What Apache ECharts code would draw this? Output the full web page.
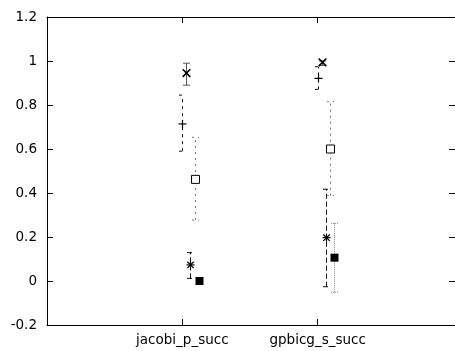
<!DOCTYPE html>
<html>
<head>
<meta charset="utf-8">
<script src="https://cdn.jsdelivr.net/npm/echarts@6/dist/echarts.min.js"></script>
<style>html,body{margin:0;padding:0;background:#fff}#c{width:455px;height:351px}</style>
</head>
<body>
<div id="c"></div>
<script>
// Categories (placed at x = 1 and x = 2)
var categories = ['jacobi_p_succ', 'gpbicg_s_succ'];
var categoryPositions = [1, 2];
var yTicks = [-0.2, 0, 0.2, 0.4, 0.6, 0.8, 1, 1.2];

// Series values: mean, low, high per category
var plusMean = [0.714, 0.921];
var plusLow  = [0.590, 0.871];
var plusHigh = [0.845, 0.974];

var crossMean = [0.945, 0.994];
var crossLow  = [0.890, 0.980];
var crossHigh = [0.990, 1.000];

var starMean = [0.073, 0.197];
var starLow  = [0.012, -0.026];
var starHigh = [0.129, 0.417];

var boxMean = [0.462, 0.600];
var boxLow  = [0.277, 0.388];
var boxHigh = [0.653, 0.815];

var fboxMean = [0.000, 0.106];
var fboxLow  = [-0.003, -0.051];
var fboxHigh = [0.003, 0.262];

function buildData(mean, low, high, seriesIdx) {
  return categories.map(function (c, i) {
    return [categoryPositions[i] + seriesIdx * 0.03, mean[i], low[i], high[i]];
  });
}

function makeRender(marker, stroke, dash) {
  return function (params, api) {
    var x = api.value(0), y = api.value(1), lo = api.value(2), hi = api.value(3);
    var p = api.coord([x, y]);
    var pl = api.coord([x, lo]);
    var ph = api.coord([x, hi]);
    var cx = Math.round(p[0]) + 0.5;
    var cy = p[1];
    var bx = cx;
    var cap = 3.5;
    var ls = {stroke: stroke, lineWidth: 1, lineDash: dash};
    var ch = [];
    ch.push({type: 'line', shape: {x1: bx, y1: pl[1], x2: bx, y2: ph[1]}, style: ls});
    ch.push({type: 'line', shape: {x1: bx - cap, y1: pl[1], x2: bx + cap, y2: pl[1]}, style: ls});
    ch.push({type: 'line', shape: {x1: bx - cap, y1: ph[1], x2: bx + cap, y2: ph[1]}, style: ls});
    var ms = {stroke: '#000', lineWidth: 1.2};
    var r = 4;
    if (marker === 'plus' || marker === 'star') {
      ch.push({type: 'line', shape: {x1: cx - r, y1: cy, x2: cx + r, y2: cy}, style: ms});
      ch.push({type: 'line', shape: {x1: cx, y1: cy - r, x2: cx, y2: cy + r}, style: ms});
    }
    if (marker === 'cross' || marker === 'star') {
      var rr = marker === 'star' ? 3.2 : 3.8;
      var st = marker === 'cross' ? {stroke: '#000', lineWidth: 1.6} : ms;
      ch.push({type: 'line', shape: {x1: cx - rr, y1: cy - rr, x2: cx + rr, y2: cy + rr}, style: st});
      ch.push({type: 'line', shape: {x1: cx - rr, y1: cy + rr, x2: cx + rr, y2: cy - rr}, style: st});
    }
    if (marker === 'box') {
      ch.push({type: 'rect', shape: {x: cx - 4, y: cy - 4, width: 8, height: 8}, style: {fill: '#fff', stroke: '#000', lineWidth: 1}});
    }
    if (marker === 'fbox') {
      ch.push({type: 'rect', shape: {x: cx - 4, y: cy - 4, width: 8, height: 8}, style: {fill: '#000'}});
    }
    return {type: 'group', children: ch};
  };
}

var font = 'DejaVu Sans';
var lineStyle = {color: '#000', width: 1};
var xMax = 3.015;

var option = {
  animation: false,
  backgroundColor: '#fff',
  grid: {left: 47, top: 17, width: 412, height: 308},
  xAxis: [{
    type: 'value', min: 0, max: xMax, interval: 1, position: 'bottom',
    axisLine: {show: true, onZero: false, lineStyle: lineStyle},
    axisTick: {show: true, inside: true, length: 6, lineStyle: lineStyle, customValues: categoryPositions},
    splitLine: {show: false},
    axisLabel: {
      margin: 8, color: '#000', fontFamily: font, fontSize: 13.5,
      customValues: categoryPositions,
      formatter: function (v) { var i = categoryPositions.indexOf(Math.round(v)); return i >= 0 ? categories[i] : ''; }
    }
  }, {
    type: 'value', min: 0, max: xMax, interval: 1, position: 'top',
    axisLine: {show: true, onZero: false, lineStyle: lineStyle},
    axisTick: {show: true, inside: true, length: 6, lineStyle: lineStyle, customValues: categoryPositions},
    splitLine: {show: false},
    axisLabel: {show: false}
  }],
  yAxis: [{
    type: 'value', min: yTicks[0], max: yTicks[yTicks.length - 1], interval: 0.2, position: 'left',
    axisLine: {show: true, onZero: false, lineStyle: lineStyle},
    axisTick: {show: true, inside: true, length: 6, lineStyle: lineStyle},
    splitLine: {show: false},
    axisLabel: {
      margin: 10, color: '#000', fontFamily: font, fontSize: 13.5,
      formatter: function (v) { return String(Math.round(v * 10) / 10); }
    }
  }, {
    type: 'value', min: yTicks[0], max: yTicks[yTicks.length - 1], interval: 0.2, position: 'right',
    axisLine: {show: true, onZero: false, lineStyle: lineStyle},
    axisTick: {show: true, inside: true, length: 6, lineStyle: lineStyle},
    splitLine: {show: false},
    axisLabel: {show: false}
  }],
  series: [
    {type: 'custom', name: 'plus', renderItem: makeRender('plus', '#111', [3, 4]), data: buildData(plusMean, plusLow, plusHigh, 0), z: 2},
    {type: 'custom', name: 'cross', renderItem: makeRender('cross', '#555', null), data: buildData(crossMean, crossLow, crossHigh, 1), z: 2},
    {type: 'custom', name: 'star', renderItem: makeRender('star', '#111', [5, 3]), data: buildData(starMean, starLow, starHigh, 2), z: 2},
    {type: 'custom', name: 'box', renderItem: makeRender('box', '#777', [2, 4]), data: buildData(boxMean, boxLow, boxHigh, 3), z: 2},
    {type: 'custom', name: 'fbox', renderItem: makeRender('fbox', '#888', [1, 1]), data: buildData(fboxMean, fboxLow, fboxHigh, 4), z: 2}
  ]
};

var chart = echarts.init(document.getElementById('c'), null, {renderer: 'canvas'});
chart.setOption(option);
</script>
</body>
</html>
